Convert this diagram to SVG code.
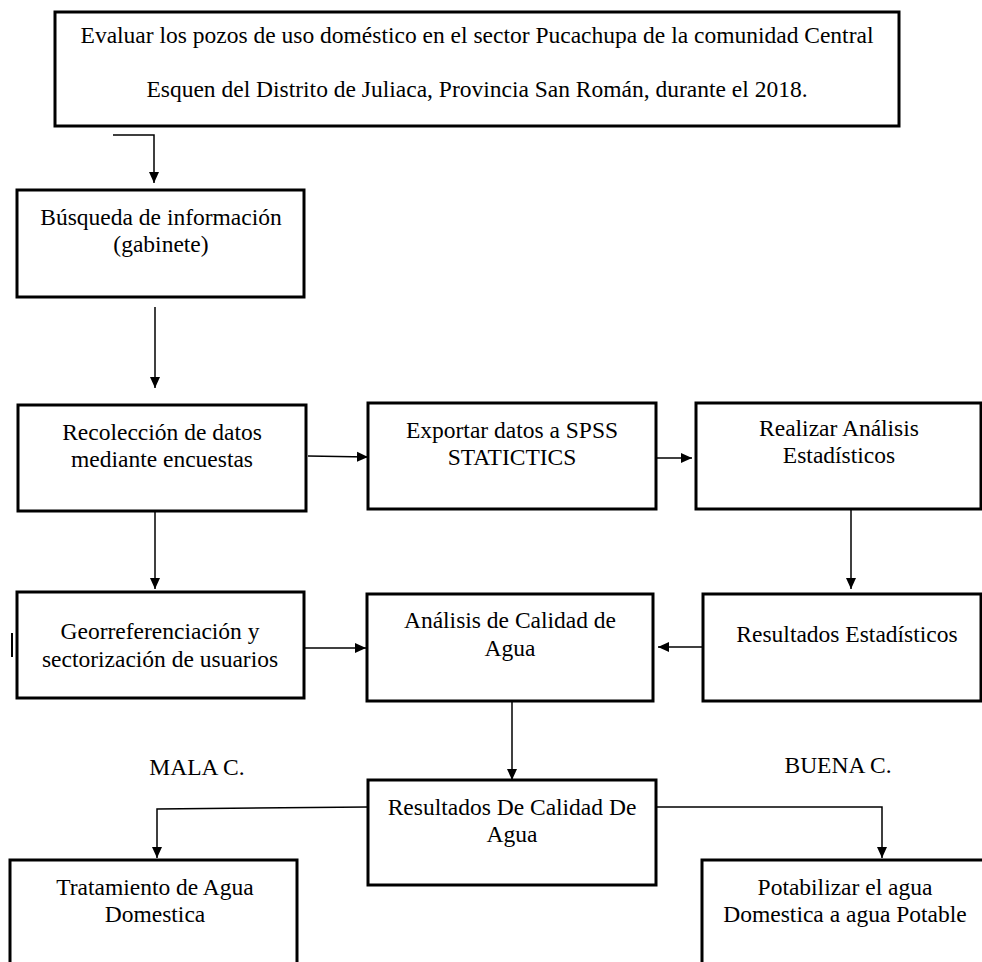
<svg xmlns="http://www.w3.org/2000/svg" width="982" height="962" viewBox="0 0 982 962">
<style>
.box{fill:#fff;stroke:#000;stroke-width:3}
.c{fill:none;stroke:#000;stroke-width:1.5}
</style>
<defs>
<marker id="ah" markerUnits="userSpaceOnUse" markerWidth="12" markerHeight="12" viewBox="0 0 12 12" refX="11" refY="6" orient="auto">
<path d="M0,1 L11,6 L0,11 Z" fill="#000"/>
</marker>
</defs>
<rect width="982" height="962" fill="#fff"/>
<g id="connectors">
<path class="c" d="M113,135 H154 V183" marker-end="url(#ah)"/>
<path class="c" d="M155,307 V388" marker-end="url(#ah)"/>
<path class="c" d="M308,456 L368,457" marker-end="url(#ah)"/>
<path class="c" d="M630,458 H692" marker-end="url(#ah)"/>
<path class="c" d="M851,510 V589" marker-end="url(#ah)"/>
<path class="c" d="M155,512 V589" marker-end="url(#ah)"/>
<path class="c" d="M304,648 H366" marker-end="url(#ah)"/>
<path class="c" d="M721,647 H658" marker-end="url(#ah)"/>
<path class="c" d="M512,702 V780" marker-end="url(#ah)"/>
<path class="c" d="M368,807 L157,809 V858" marker-end="url(#ah)"/>
<path class="c" d="M656,807 H882 V858" marker-end="url(#ah)"/>
<line x1="12" y1="633" x2="12" y2="657" stroke="#000" stroke-width="2"/>
</g>
<g font-family="Liberation Serif" font-size="23.5" text-anchor="middle" fill="#000">
<g id="n-objetivo">
<rect class="box" x="55" y="12" width="844" height="114"/>
<text x="477" y="43">Evaluar los pozos de uso doméstico en el sector Pucachupa de la comunidad Central</text>
<text x="477" y="97">Esquen del Distrito de Juliaca, Provincia San Román, durante el 2018.</text>
</g>
<g id="n-busqueda">
<rect class="box" x="17" y="190" width="287" height="107"/>
<text x="161" y="225">Búsqueda de información</text>
<text x="161" y="252">(gabinete)</text>
</g>
<g id="n-recoleccion">
<rect class="box" x="18" y="405" width="288" height="106"/>
<text x="162" y="440">Recolección de datos</text>
<text x="162" y="467">mediante encuestas</text>
</g>
<g id="n-exportar">
<rect class="box" x="368" y="403" width="288" height="106"/>
<text x="512" y="438">Exportar datos a SPSS</text>
<text x="512" y="465">STATICTICS</text>
</g>
<g id="n-realizar">
<rect class="box" x="696" y="403" width="285" height="106"/>
<text x="839" y="436">Realizar Análisis</text>
<text x="839" y="463">Estadísticos</text>
</g>
<g id="n-georref">
<rect class="box" x="17" y="592" width="287" height="106"/>
<text x="160" y="639">Georreferenciación y</text>
<text x="160" y="667">sectorización de usuarios</text>
</g>
<g id="n-analisis">
<rect class="box" x="367" y="594" width="286" height="107"/>
<text x="510" y="628">Análisis de Calidad de</text>
<text x="510" y="656">Agua</text>
</g>
<g id="n-resest">
<rect class="box" x="703" y="594" width="278" height="107"/>
<text x="847" y="642">Resultados Estadísticos</text>
</g>
<g id="n-rescal">
<rect class="box" x="368" y="780" width="288" height="105"/>
<text x="512" y="815">Resultados De Calidad De</text>
<text x="512" y="842">Agua</text>
</g>
<g id="labels">
<text x="197" y="775">MALA C.</text>
<text x="838" y="773">BUENA C.</text>
</g>
<g id="n-tratamiento">
<rect class="box" x="10" y="860" width="287" height="120"/>
<text x="155" y="895">Tratamiento de Agua</text>
<text x="155" y="922">Domestica</text>
</g>
<g id="n-potabilizar">
<rect class="box" x="702" y="860" width="300" height="120"/>
<text x="845" y="895">Potabilizar el agua</text>
<text x="845" y="922">Domestica a agua Potable</text>
</g>
</g>
</svg>
